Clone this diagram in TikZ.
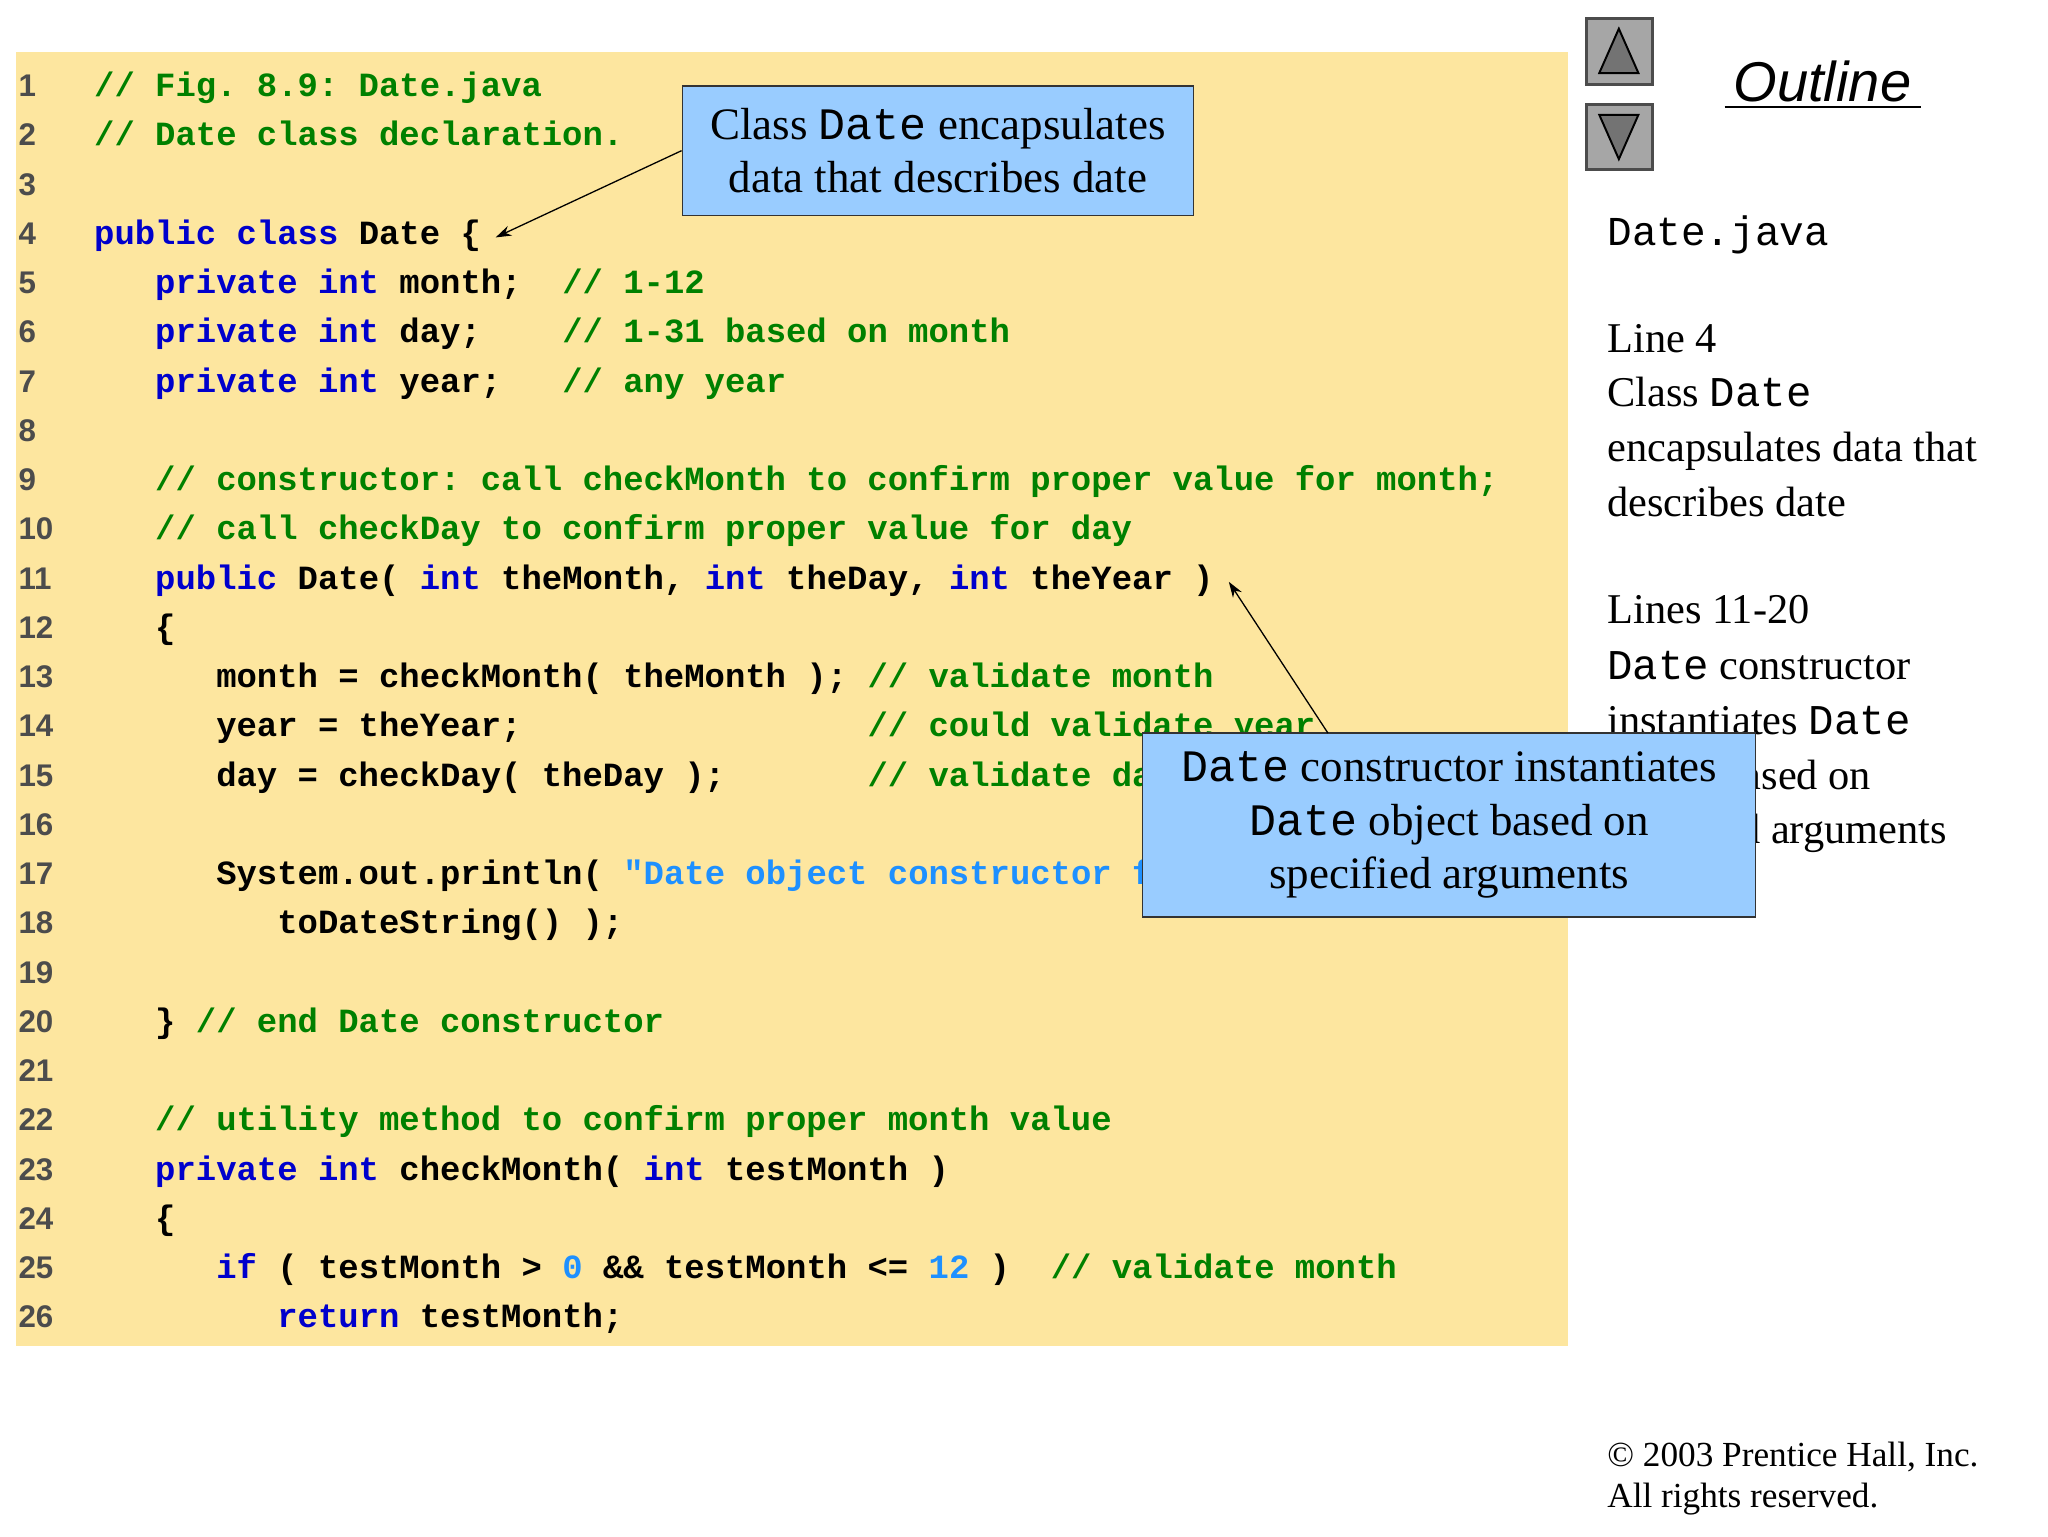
\documentclass[tikz,border=0pt]{standalone}
\usepackage{fontspec}
\setmainfont{Liberation Serif}
\setsansfont{Liberation Sans}
\setmonofont{Liberation Mono}
\usetikzlibrary{arrows.meta}
\definecolor{bgY}{HTML}{FDE69F}
\definecolor{kwC}{HTML}{0000CC}
\definecolor{cmC}{HTML}{008000}
\definecolor{stC}{HTML}{1E90FF}
\definecolor{callC}{HTML}{99CCFF}
\newcommand{\kw}[1]{\textcolor{kwC}{#1}}
\newcommand{\cm}[1]{\textcolor{cmC}{#1}}
\newcommand{\st}[1]{\textcolor{stC}{#1}}
\begin{document}
\begin{tikzpicture}[x=1pt,y=-1pt,
  code/.style={anchor=base west,inner sep=0,font=\fontsize{26}{30}\ttfamily\bfseries},
  num/.style={anchor=base west,inner sep=0,text=black!70,font=\fontsize{24}{28}\sffamily\bfseries},
  callout/.style={draw=black!80,line width=1pt,fill=callC,align=center,font=\fontsize{34.5}{41}\selectfont,inner sep=0},
  side/.style={anchor=base west,inner sep=0,font=\fontsize{32.5}{42}\selectfont},
  arr/.style={-{Stealth[length=12pt,width=8pt]},line width=1pt},
  btn/.style={draw=black!70,line width=2pt,fill=black!35}]
\useasboundingbox (0,0) rectangle (1570,1177.5);
\fill[bgY] (12,40) rectangle (1202,1032);
\foreach \n in {1,...,26}{\node[num] at (14,{74+37.76*(\n-1)}) {\n};}
\def\Y#1{{74+37.76*(#1-1)}}
\node[code] (l1) at (72,\Y1) {\cm{// Fig. 8.9: Date.java}};
\node[code] (l2) at (72,\Y2) {\cm{// Date class declaration.}};
\node[code] (l4) at (72,\Y4) {\kw{public class} Date \{};
\node[code] (l5) at (72,\Y5) {~~~\kw{private int} month;~~\cm{// 1-12}};
\node[code] (l6) at (72,\Y6) {~~~\kw{private int} day;~~~~\cm{// 1-31 based on month}};
\node[code] (l7) at (72,\Y7) {~~~\kw{private int} year;~~~\cm{// any year}};
\node[code] (l9) at (72,\Y9) {~~~\cm{// constructor: call checkMonth to confirm proper value for month;}};
\node[code] (l10) at (72,\Y{10}) {~~~\cm{// call checkDay to confirm proper value for day}};
\node[code] (l11) at (72,\Y{11}) {~~~\kw{public} Date( \kw{int} theMonth, \kw{int} theDay, \kw{int} theYear )};
\node[code] (l12) at (72,\Y{12}) {~~~\{};
\node[code] (l13) at (72,\Y{13}) {~~~~~~month = checkMonth( theMonth ); \cm{// validate month}};
\node[code] (l14) at (72,\Y{14}) {~~~~~~year = theYear;~~~~~~~~~~~~~~~~~\cm{// could validate year}};
\node[code] (l15) at (72,\Y{15}) {~~~~~~day = checkDay( theDay );~~~~~~~\cm{// validate day}};
\node[code] (l17) at (72,\Y{17}) {~~~~~~System.out.println( \st{"Date object constructor for date "} +};
\node[code] (l18) at (72,\Y{18}) {~~~~~~~~~toDateString() );};
\node[code] (l20) at (72,\Y{20}) {~~~\} \cm{// end Date constructor}};
\node[code] (l22) at (72,\Y{22}) {~~~\cm{// utility method to confirm proper month value}};
\node[code] (l23) at (72,\Y{23}) {~~~\kw{private int} checkMonth( \kw{int} testMonth )};
\node[code] (l24) at (72,\Y{24}) {~~~\{};
\node[code] (l25) at (72,\Y{25}) {~~~~~~\kw{if} ( testMonth > \st{0} \&\& testMonth <= \st{12} )~~\cm{// validate month}};
\node[code] (l26) at (72,\Y{26}) {~~~~~~~~~\kw{return} testMonth;};
% sidebar
\draw[btn] (1216,14) rectangle (1267,65);
\draw[btn] (1216,80) rectangle (1267,130);
\draw[black,line width=1.5pt,fill=black!55] (1241,22) -- (1226,56) -- (1256,56) -- cycle;
\draw[black,line width=1.5pt,fill=black!55] (1241,122) -- (1226,88) -- (1256,88) -- cycle;
\node[anchor=base,inner sep=0,font=\fontsize{43}{48}\sffamily\itshape] (ol) at (1397,78) {Outline};
\draw[line width=1.5pt] (1322,82) -- (1473,82);
\node[side,font=\fontsize{31.5}{36}\ttfamily] (dj) at (1232,188) {Date.java};
\node[side] (a1) at (1232,270) {Line 4};
\node[side] (a2) at (1232,312) {Class \texttt{Date}};
\node[side] (a3) at (1232,354) {encapsulates data that};
\node[side] (a4) at (1232,396) {describes date};
\node[side] (b1) at (1232,478) {Lines 11-20};
\node[side] (b2) at (1232,521) {\texttt{Date} constructor};
\node[side] (b3) at (1232,563) {instantiates \texttt{Date}};
\node[side] (b4) at (1232,605) {object based on};
\node[side] (b5) at (1232,647) {specified arguments};
\node[side,font=\fontsize{27}{32}\selectfont] (cp1) at (1232,1124) {\textcopyright{} 2003 Prentice Hall, Inc.};
\node[side,font=\fontsize{27}{32}\selectfont] (cp2) at (1232,1156) {All rights reserved.};
% callouts
\node[callout,minimum width=392pt,minimum height=99pt] (c1) at (719,115.5) {Class \texttt{Date} encapsulates\\data that describes date};
\coordinate (t1) at (380,182);
\draw[arr] (c1.west) -- (t1);
\node[callout,minimum width=470pt,minimum height=141pt] (c2) at (1111,632.5) {\texttt{Date} constructor instantiates\\\texttt{Date} object based on\\specified arguments};
\coordinate (t2) at (942,446);
\coordinate (s2) at (1018,562);
\draw[arr] (s2) -- (t2);
\end{tikzpicture}
\end{document}
